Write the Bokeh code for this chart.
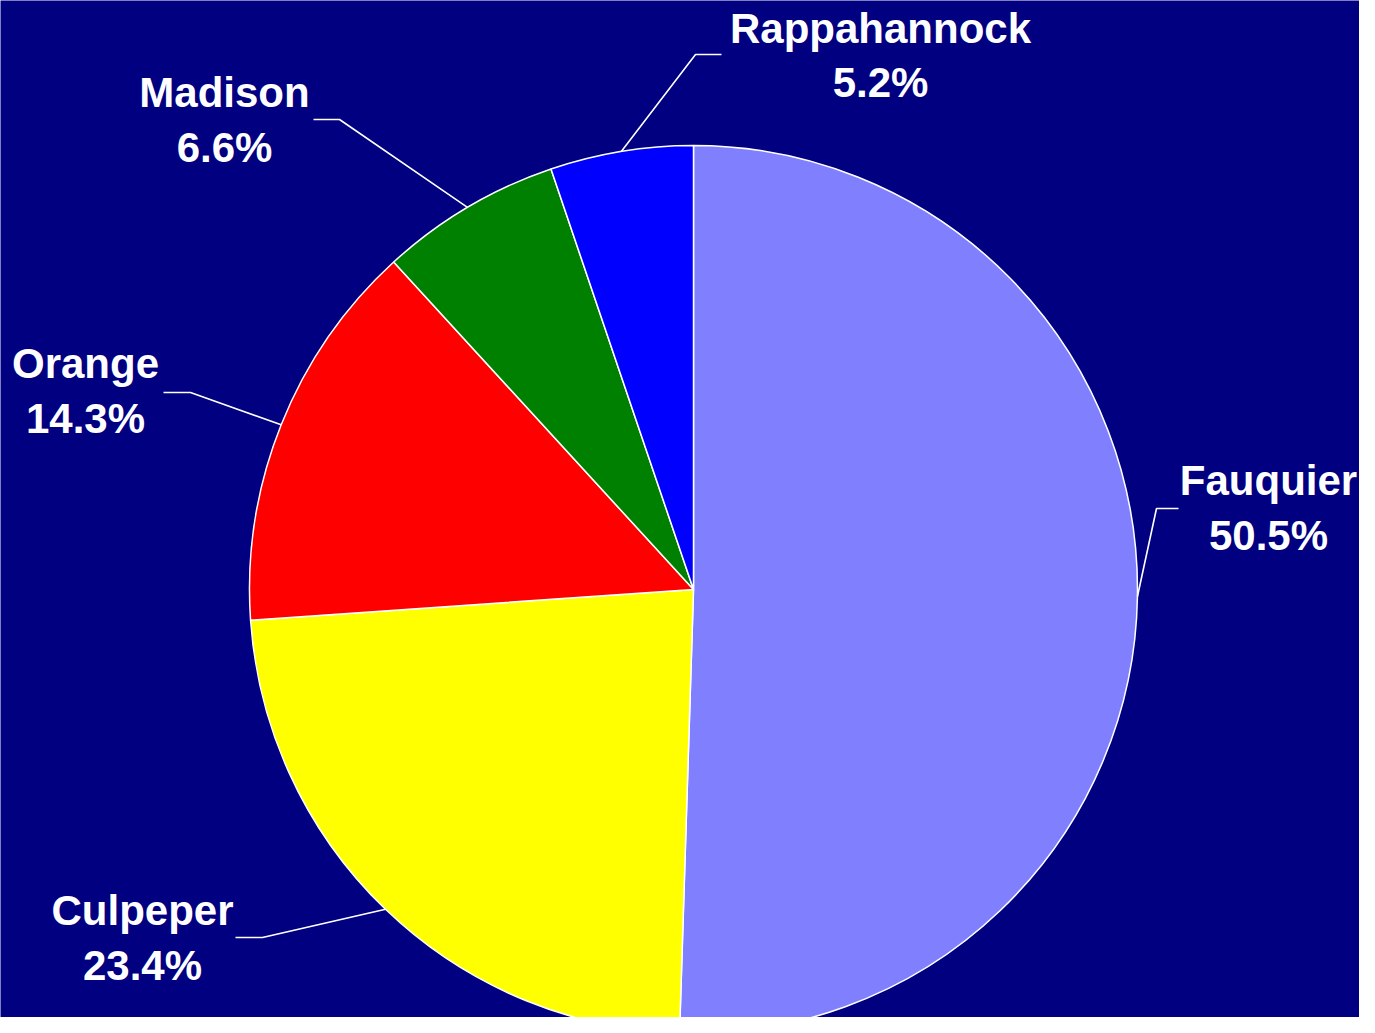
import math
from bokeh.plotting import figure
from bokeh.models import Range1d, ColumnDataSource
from bokeh.core.properties import value
from bokeh.embed import file_html
from bokeh.resources import INLINE

# ---- data ----
counties = ["Fauquier", "Culpeper", "Orange", "Madison", "Rappahannock"]
shares = [50.5, 23.4, 14.3, 6.6, 5.2]
colors = ["#8080FF", "#FFFF00", "#FF0000", "#008000", "#0000FF"]

# ---- layout (pixels, y measured from top of the figure) ----
FW, FH = 1359, 1017
CX, CY, R = 693, 589, 444
# elbow point and end of the horizontal leader segment for each label
elbows = [(1156, 508), (262, 937), (190, 392), (339, 119), (695, 54)]
ends = [(1178, 508), (235, 937), (163, 392), (313, 119), (721, 54)]
# label centre x, baseline of name line, baseline of percent line
label_pos = [(1268, 495, 550), (142, 925, 980), (85, 378, 433),
             (224, 107, 162), (880, 43, 97)]
BASELINE_FIX = 15  # renderer places alphabetic baseline lower than asked


def fy(py):
    return FH - py


total = sum(shares)
starts, stops, mids = [], [], []
cum = 0.0
for s in shares:
    a0 = math.pi / 2 - 2 * math.pi * cum / total
    cum += s
    a1 = math.pi / 2 - 2 * math.pi * cum / total
    starts.append(a0)
    stops.append(a1)
    mids.append((a0 + a1) / 2)

p = figure(width=FW, height=FH, output_backend="svg", toolbar_location=None,
           x_range=Range1d(0, FW), y_range=Range1d(0, FH),
           x_axis_location=None, y_axis_location=None, min_border=0,
           background_fill_color="#000080", border_fill_color="#000080",
           outline_line_color=None)
p.grid.visible = False

src = ColumnDataSource(dict(start=starts, end=stops, color=colors))
p.wedge(x=CX, y=fy(CY), radius=R, start_angle="start", end_angle="end",
        direction="clock", fill_color="color", line_color="white",
        line_width=1.5, source=src)

xs, ys = [], []
for m, (ex, ey), (nx, ny) in zip(mids, elbows, ends):
    sx = CX + R * math.cos(m)
    sy = fy(CY) + R * math.sin(m)
    xs.append([sx, ex, nx])
    ys.append([sy, fy(ey), fy(ny)])
p.multi_line(xs=xs, ys=ys, line_color="white", line_width=1.6)

tx = [lp[0] for lp in label_pos]
font = dict(text_align="center", text_baseline="alphabetic", text_color="white",
            text_font=value("Liberation Sans"), text_font_style="bold",
            text_font_size="42px")
p.text(x=tx, y=[fy(lp[1] - BASELINE_FIX) for lp in label_pos], text=counties,
       **font)
p.text(x=tx, y=[fy(lp[2] - BASELINE_FIX) for lp in label_pos],
       text=[f"{s:.1f}%" for s in shares], **font)

open("out.html", "w").write(file_html(p, INLINE))
